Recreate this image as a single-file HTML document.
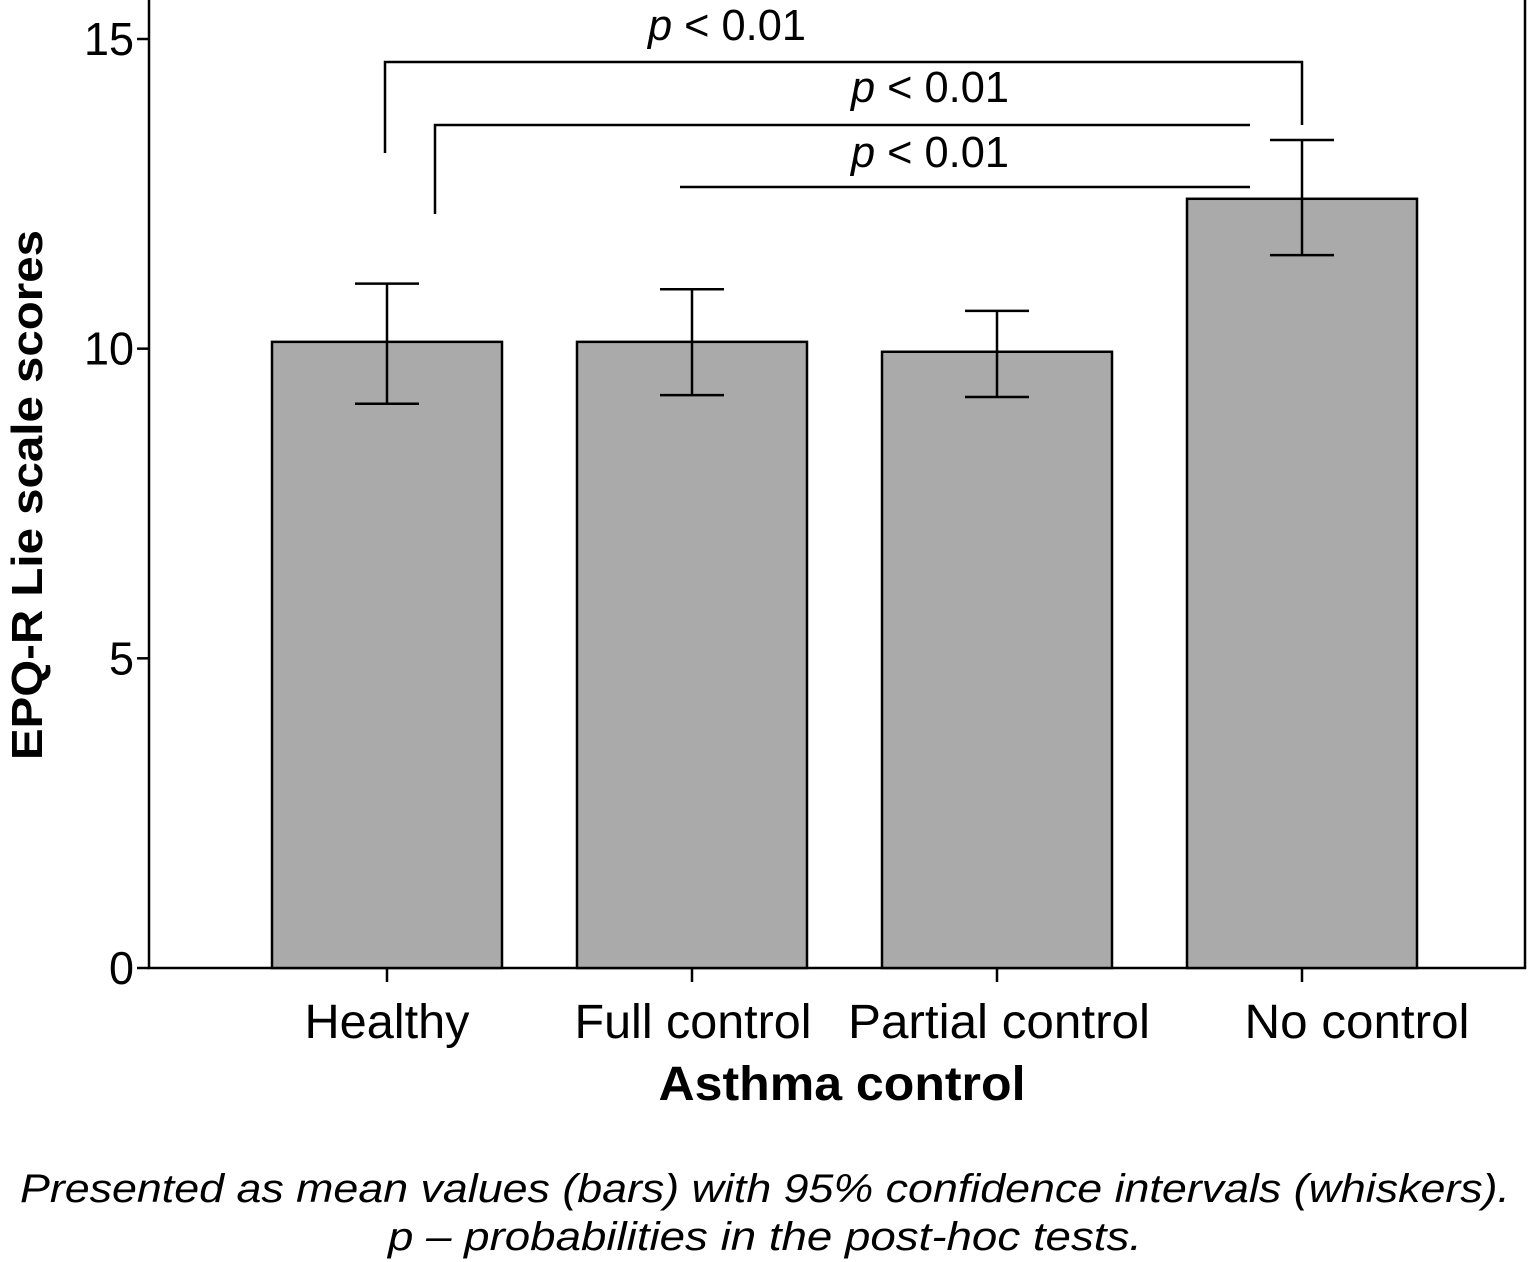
<!DOCTYPE html>
<html><head><meta charset="utf-8"><style>
body{margin:0;background:#fff;}
svg{display:block;font-family:"Liberation Sans",sans-serif;}
</style></head><body>
<svg id="chart" width="1528" height="1262">
</svg>
<script>
const categories=["Healthy","Full control","Partial control","No control"];
const means=[10.11,10.11,9.95,12.42];
const ciHigh=[11.05,10.96,10.61,13.37];
const ciLow=[9.11,9.25,9.22,11.51];
const yTicks=[0,5,10,15];
const NS="http://www.w3.org/2000/svg";
const svg=document.getElementById('chart');
const y0=968,yUnit=(968-39)/15;
function y(v){return y0-v*yUnit;}
const centers=[387,692,997,1302];
const labelX=[387,693,999,1357];
const labelW=[165,237,302,225];
function xc(i){return centers[i];}
const bw=230;
function mk(tag,attrs,parent){const e=document.createElementNS(NS,tag);for(const k in attrs)e.setAttribute(k,attrs[k]);(parent||svg).appendChild(e);return e;}
let f=mk('path',{d:'M149,0 V968 H1525 V0',fill:'none',stroke:'#000','stroke-width':2.5});


yTicks.forEach(t=>{
 let l=mk('line',{x1:137,x2:149,y1:y(t),y2:y(t),stroke:'#000','stroke-width':2.5});
 
 
 let tx=mk('text',{x:134,y:y(t)+16,'text-anchor':'end','font-size':46,textLength:String(t).length*25,lengthAdjust:'spacingAndGlyphs'});
 tx.textContent=t;
 
 
});
categories.forEach((c,i)=>{
 let b=mk('rect',{x:xc(i)-bw/2,y:y(means[i]),width:bw,height:y0-y(means[i]),fill:'#aaaaaa',stroke:'#000','stroke-width':2.5});
 
 
 let e=mk('path',{d:`M${xc(i)},${y(ciHigh[i])}V${y(ciLow[i])}M${xc(i)-32},${y(ciHigh[i])}H${xc(i)+32}M${xc(i)-32},${y(ciLow[i])}H${xc(i)+32}`,fill:'none',stroke:'#000','stroke-width':2.5});
 
 
 let t=mk('line',{x1:xc(i),x2:xc(i),y1:968,y2:982,stroke:'#000','stroke-width':2.5});
 
 
 let tx=mk('text',{x:labelX[i],y:1038,'text-anchor':'middle','font-size':48,textLength:labelW[i],lengthAdjust:'spacingAndGlyphs'});
 tx.textContent=c;
 
 
});
const br=[["M385,153V62H1302V125",727,40],["M435,214V125H1250",930,102],["M680,187H1250",930,167]];
br.forEach(b=>{
 let p=mk('path',{d:b[0],fill:'none',stroke:'#000','stroke-width':2.5});
 
 
 let t=mk('text',{x:b[1],y:b[2],'text-anchor':'middle','font-size':44,textLength:158,lengthAdjust:'spacingAndGlyphs'});
 t.innerHTML='<tspan font-style="italic">p</tspan> &lt; 0.01';
 
 
});
</script>
<svg style="position:absolute;left:0;top:0" width="1528" height="1262">
<text x="842" y="1100" text-anchor="middle" font-size="48" font-weight="bold" font-family="Liberation Sans,sans-serif" textLength="367" lengthAdjust="spacingAndGlyphs">Asthma control</text>
<text transform="translate(42,495) rotate(-90)" text-anchor="middle" font-size="44" font-weight="bold" font-family="Liberation Sans,sans-serif" textLength="530" lengthAdjust="spacingAndGlyphs">EPQ-R Lie scale scores</text>
<text x="765" y="1202" text-anchor="middle" font-size="40" font-style="italic" font-family="Liberation Sans,sans-serif" textLength="1490" lengthAdjust="spacingAndGlyphs">Presented as mean values (bars) with 95% confidence intervals (whiskers).</text>
<text x="765" y="1250" text-anchor="middle" font-size="40" font-style="italic" font-family="Liberation Sans,sans-serif" textLength="754" lengthAdjust="spacingAndGlyphs">p – probabilities in the post-hoc tests.</text>
</svg>
</body></html>
